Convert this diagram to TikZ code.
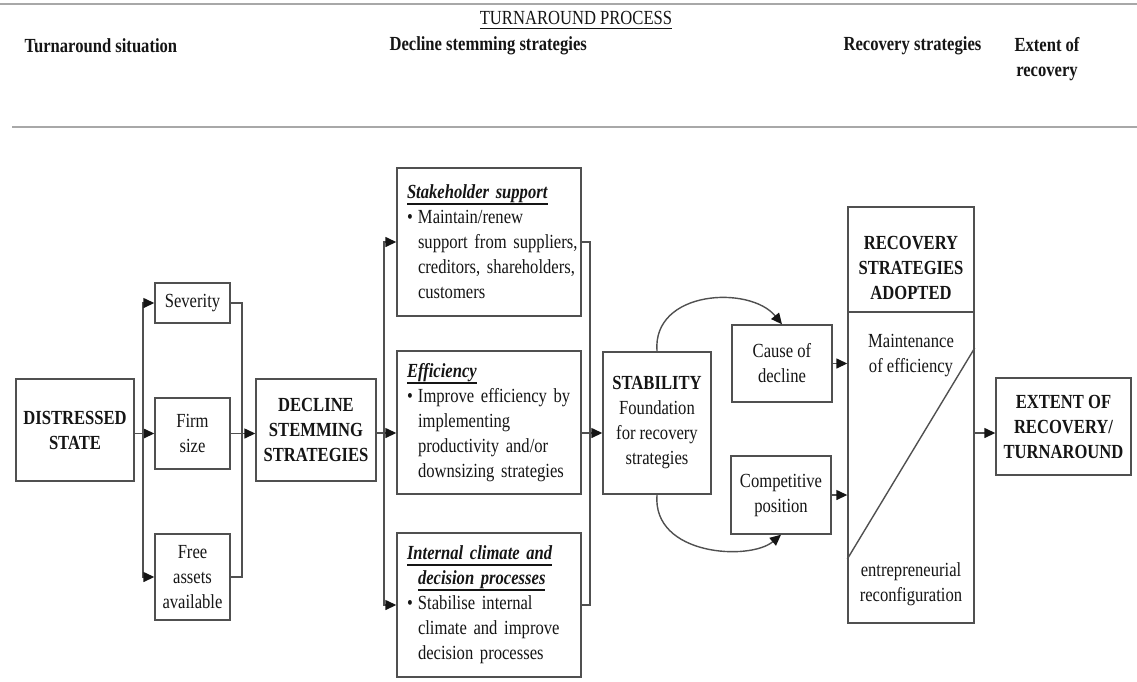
\documentclass[tikz,border=0pt]{standalone}
\usepackage{fontspec}
\setmainfont{Liberation Serif}[FakeStretch=0.83]
\usetikzlibrary{arrows.meta}
\definecolor{ink}{HTML}{151515}
\definecolor{edge}{HTML}{505050}
\definecolor{rulegray}{HTML}{A8A8A8}
\newcommand\ulx[3]{\leavevmode\setbox0=\hbox{#3}\rlap{\smash{\rule[-#2]{\wd0}{#1}}}\box0}
\newcommand\hd[1]{\ulx{1.8pt}{6.4pt}{\textbf{\textit{#1}}}}
\newcommand\bul{\makebox[11pt][l]{\textbullet}}
\newcommand\ind{\hspace*{11pt}}
\newcommand\Ln[1]{\mbox{#1}}
\begin{document}
\begin{tikzpicture}[x=1pt,y=-1pt,
  every node/.style={font=\fontsize{20}{25}\selectfont, text=ink},
  box/.style={draw=edge, line width=1.4pt, inner sep=0pt, align=center},
  lbox/.style={box, align=left, inner xsep=10pt, inner ysep=0pt},
  conn/.style={draw=edge, line width=1.4pt},
  arr/.style={conn, -{Triangle[length=11pt,width=10pt,color=ink]}},
  hdr/.style={font=\fontsize{20}{25}\selectfont\bfseries, align=center},
  sep/.style={draw=rulegray, line width=2pt},
]
\useasboundingbox (0,0) rectangle (1137,681);

% header rules
\coordinate (t1) at (0,4);
\coordinate (t2) at (1137,4);
\coordinate (h1) at (12,127);
\coordinate (h2) at (1137,127);
\draw[sep] (t1) -- (t2);
\draw[sep] (h1) -- (h2);

% headers
\node (title) at (576,18) {\ulx{1.2pt}{4.2pt}{TURNAROUND PROCESS}};
\node[hdr, anchor=west] (hsit) at (21,46) {Turnaround situation};
\node[hdr, anchor=west] (hdec) at (386,46) {Decline stemming strategies};
\node[hdr, anchor=west] (hrec) at (840,46) {Recovery strategies};
\node[hdr] (hext) at (1047,59) {Extent of\\recovery};

% axis
\coordinate (ax) at (0,433);

% boxes
\node[box, minimum width=118pt, minimum height=102pt, font=\fontsize{20}{25}\selectfont\bfseries] (dist) at (75,430) {DISTRESSED\\STATE};
\node[box, minimum width=75pt, minimum height=40pt] (sev) at (192.5,303) {Severity};
\node[box, minimum width=75pt, minimum height=71pt] (firm) at (192.5,433.5) {Firm\\size};
\node[box, minimum width=75pt, minimum height=86pt] (free) at (192.5,577) {Free\\assets\\available};
\node[box, minimum width=120pt, minimum height=102pt, font=\fontsize{20}{25}\selectfont\bfseries] (decl) at (316,430) {DECLINE\\STEMMING\\STRATEGIES};

\node[lbox, text width=164pt, minimum height=148pt] (stake) at (489,242)
  {\Ln{\hd{Stakeholder support}}\\
   \Ln{\bul Maintain/renew}\\
   \Ln{\ind support from suppliers,}\\
   \Ln{\ind creditors, shareholders,}\\
   \Ln{\ind customers}};
\node[lbox, text width=164pt, minimum height=143pt] (eff) at (489,422.5)
  {\Ln{\hd{Efficiency}}\\
   \Ln{\bul Improve efficiency by}\\
   \Ln{\ind implementing}\\
   \Ln{\ind productivity and/or}\\
   \Ln{\ind downsizing strategies}};
\node[lbox, text width=164pt, minimum height=144pt] (intl) at (489,605)
  {\Ln{\hd{Internal climate and}}\\
   \Ln{\ind\hd{decision processes}}\\
   \Ln{\bul Stabilise internal}\\
   \Ln{\ind climate and improve}\\
   \Ln{\ind decision processes}};

\node[box, minimum width=108pt, minimum height=142pt] (stab) at (657,423)
  {\textbf{STABILITY}\\Foundation\\for recovery\\strategies};
\node[box, minimum width=100pt, minimum height=77pt] (cause) at (782,363.5) {Cause of\\decline};
\node[box, minimum width=100pt, minimum height=78pt] (comp) at (781,495) {Competitive\\position};

\node[box, minimum width=126pt, minimum height=416pt] (rec) at (911,415) {};
\node[hdr] (rect) at (911,268) {RECOVERY\\STRATEGIES\\ADOPTED};
\node[align=center] (maint) at (911,356) {Maintenance\\of efficiency};
\node[align=center] (entr) at (911,584) {entrepreneurial\\reconfiguration};
\coordinate (div) at (911,312);
\coordinate (dl) at (0,559);
\coordinate (dr) at (0,348);
\draw[conn] (rec.west |- div) -- (rec.east |- div);
\draw[conn] (rec.west |- dl) -- (rec.east |- dr);

\node[box, minimum width=135pt, minimum height=97pt, font=\fontsize{20}{25}\selectfont\bfseries] (ext) at (1063.5,426.5) {EXTENT OF\\RECOVERY/\\TURNAROUND};

% first bracket
\coordinate (bx1) at (143,433);
\coordinate (bx2) at (242,433);
\draw[arr] (dist.east |- firm.west) -- (firm.west);
\draw[arr] (bx1 |- firm.west) |- (sev.west);
\draw[arr] (bx1 |- firm.west) |- (free.west);
\draw[conn] (sev.east) -| (bx2 |- free.east) -- (free.east);
\draw[arr] (firm.east) -- (decl.west |- firm.east);

% second bracket
\coordinate (bx3) at (384,433);
\coordinate (bx4) at (590,433);
\draw[arr] (decl.east |- ax) -- (eff.west |- ax);
\draw[arr] (bx3 |- ax) |- (stake.west);
\draw[arr] (bx3 |- ax) |- (intl.west);
\draw[conn] (stake.east) -| (bx4 |- intl.east) -- (intl.east);
\draw[arr] (eff.east |- ax) -- (stab.west |- ax);

% curves
\draw[arr] (stab.north) .. controls (652,290) and (750,285) .. (cause.north);
\draw[arr] (stab.south) .. controls (652,556) and (750,561) .. (comp.south);

% to recovery
\draw[arr] (cause.east) -- (rec.west |- cause.east);
\draw[arr] (comp.east) -- (rec.west |- comp.east);
\draw[arr] (rec.east |- ax) -- (ext.west |- ax);
\end{tikzpicture}
\end{document}
